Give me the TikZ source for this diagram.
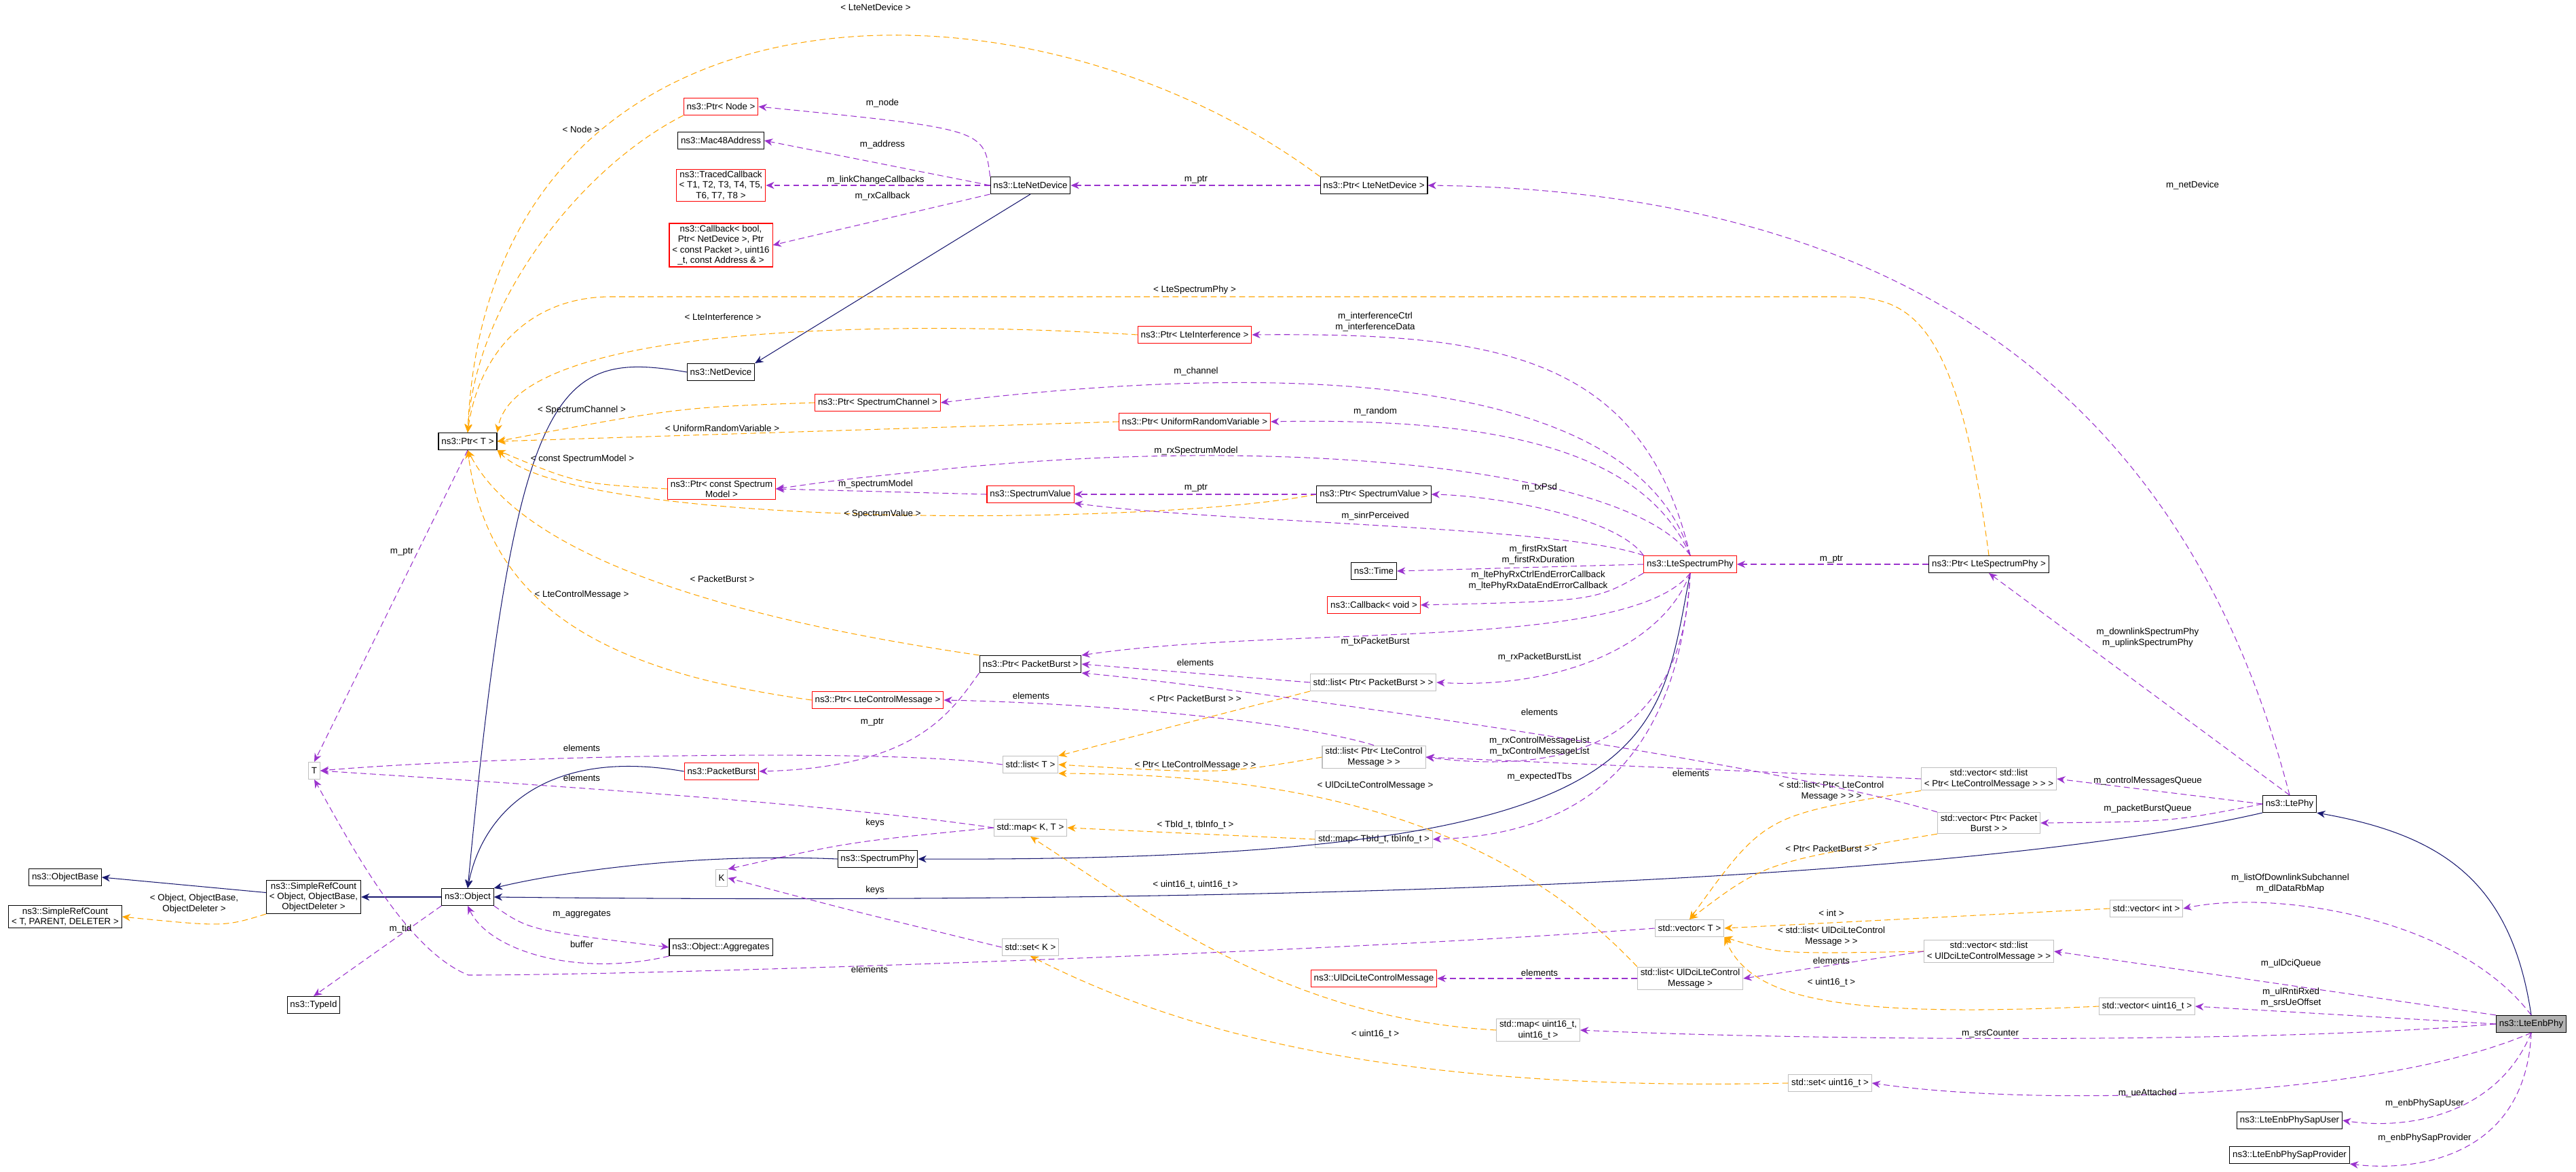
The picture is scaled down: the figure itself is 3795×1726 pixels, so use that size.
\documentclass[tikz,border=0pt]{standalone}
\usepackage{fontspec}
\setmainfont{Liberation Sans}
\usetikzlibrary{arrows.meta}
\definecolor{mpurple}{HTML}{9A32CD}
\definecolor{morange}{HTML}{FFA500}
\definecolor{mnavy}{HTML}{191970}
\definecolor{mgray}{HTML}{BFBFBF}
\tikzset{
  base/.style={draw, font=\fontsize{7.6}{8.6}\selectfont, align=center, inner xsep=2.5pt, inner ysep=1.8pt, minimum height=0.5cm, line width=0.6pt},
  box/.style={base, draw=black},
  redbox/.style={base, draw=red},
  graybox/.style={base, draw=mgray},
  mem/.style={draw=mpurple, dash pattern=on 5pt off 3pt, line width=0.6pt, -{Stealth[length=7pt,width=6pt]}},
  tmpl/.style={draw=morange, dash pattern=on 5pt off 3pt, line width=0.6pt, -{Stealth[length=7pt,width=6pt]}},
  inh/.style={draw=mnavy, line width=0.6pt, -{Stealth[length=7pt,width=6pt]}},
  lbl/.style={font=\fontsize{7.6}{8.6}\selectfont, align=center, inner sep=0pt},
}
\begin{document}
\begin{tikzpicture}[x=0.02cm, y=-0.02cm]
\useasboundingbox (0,0) rectangle (3795,1726);
% nodes
\node[redbox] (ptrnode) at (1062,157) {ns3::Ptr< Node >};
\node[box] (mac) at (1062,207) {ns3::Mac48Address};
\node[redbox] (traced) at (1062,273) {ns3::TracedCallback\\< T1, T2, T3, T4, T5,\\ T6, T7, T8 >};
\node[redbox] (cbbool) at (1062,361) {ns3::Callback< bool,\\ Ptr< NetDevice >, Ptr\\< const Packet >, uint16\\\_t, const Address \& >};
\node[box] (netdev) at (1062,548) {ns3::NetDevice};
\node[box] (ptrT) at (689,650) {ns3::Ptr< T >};
\node[redbox] (ptrchan) at (1293,593) {ns3::Ptr< SpectrumChannel >};
\node[redbox] (ptrmodel) at (1063,720) {ns3::Ptr< const Spectrum\\ Model >};
\node[box] (ltenetdev) at (1518,273) {ns3::LteNetDevice};
\node[box] (ptrltenet) at (2024,273) {ns3::Ptr< LteNetDevice >};
\node[redbox] (ptrinterf) at (1760,493) {ns3::Ptr< LteInterference >};
\node[redbox] (ptrurv) at (1760,621) {ns3::Ptr< UniformRandomVariable >};
\node[redbox] (specval) at (1518,728) {ns3::SpectrumValue};
\node[box] (ptrspecval) at (2024,728) {ns3::Ptr< SpectrumValue >};
\node[redbox] (lsp) at (2490,831) {ns3::LteSpectrumPhy};
\node[box] (time) at (2024,841) {ns3::Time};
\node[redbox] (cbvoid) at (2024,891) {ns3::Callback< void >};
\node[redbox] (ptrlcm) at (1293,1031) {ns3::Ptr< LteControlMessage >};
\node[graybox] (nT) at (463,1135) {T};
\node[redbox] (pb) at (1063,1136) {ns3::PacketBurst};
\node[graybox] (nK) at (1063,1293) {K};
\node[box] (specphy) at (1293,1265) {ns3::SpectrumPhy};
\node[box] (objbase) at (96,1292) {ns3::ObjectBase};
\node[box] (srcT) at (96,1350) {ns3::SimpleRefCount\\< T, PARENT, DELETER >};
\node[box] (srcObj) at (462,1321) {ns3::SimpleRefCount\\< Object, ObjectBase,\\ ObjectDeleter >};
\node[box] (object) at (689,1321) {ns3::Object};
\node[box] (aggr) at (1062,1395) {ns3::Object::Aggregates};
\node[box] (typeid) at (462,1480) {ns3::TypeId};
\node[box] (ptrpb) at (1518,978) {ns3::Ptr< PacketBurst >};
\node[graybox] (listpb) at (2023,1005) {std::list< Ptr< PacketBurst > >};
\node[graybox] (listT) at (1518,1126) {std::list< T >};
\node[graybox] (listlcm) at (2024,1115) {std::list< Ptr< LteControl\\Message > >};
\node[graybox] (mapKT) at (1518,1219) {std::map< K, T >};
\node[graybox] (maptb) at (2024,1236) {std::map< TbId\_t, tbInfo\_t >};
\node[graybox] (vecT) at (2489,1367) {std::vector< T >};
\node[graybox] (setK) at (1518,1395) {std::set< K >};
\node[redbox] (uldci) at (2024,1441) {ns3::UlDciLteControlMessage};
\node[graybox] (listuldci) at (2490,1441) {std::list< UlDciLteControl\\Message >};
\node[graybox] (mapu16) at (2266,1517) {std::map< uint16\_t,\\ uint16\_t >};
\node[box] (ptrlsp) at (2930,831) {ns3::Ptr< LteSpectrumPhy >};
\node[graybox] (veclistlcm) at (2930,1147) {std::vector< std::list\\< Ptr< LteControlMessage > > >};
\node[box] (ltephy) at (3373,1184) {ns3::LtePhy};
\node[graybox] (vecpb) at (2930,1212) {std::vector< Ptr< Packet\\Burst > >};
\node[graybox] (vecint) at (3162,1338) {std::vector< int >};
\node[graybox] (veculdci) at (2930,1401) {std::vector< std::list\\< UlDciLteControlMessage > >};
\node[graybox] (vecu16) at (3163,1482) {std::vector< uint16\_t >};
\node[box, fill=black!30] (enb) at (3729,1508) {ns3::LteEnbPhy};
\node[graybox] (setu16) at (2696,1595) {std::set< uint16\_t >};
\node[box] (sapuser) at (3373,1650) {ns3::LteEnbPhySapUser};
\node[box] (sapprov) at (3373,1701) {ns3::LteEnbPhySapProvider};

% inheritance
\draw[inh] (srcObj) -- (objbase.east);
\draw[inh] (object.west) -- (srcObj.east);
\draw[inh] (netdev.west) .. controls (820,515) and (760,560) .. (object.north);
\draw[inh] (ltenetdev.south) -- (netdev.north east);
\draw[inh] (pb.west) .. controls (800,1100) and (710,1200) .. (object.north);
\draw[inh] (specphy.west) .. controls (1000,1255) and (800,1290) .. (object.north east);
\draw[inh] (lsp.south) .. controls (2440,1100) and (2460,1270) .. (specphy.east);
\draw[inh] (ltephy.south west) .. controls (2800,1320) and (1500,1330) .. (object.east);
\draw[inh] (enb.north) .. controls (3700,1300) and (3600,1230) .. (ltephy.south east);

% templates
\draw[tmpl] (srcObj.south west) .. controls (330,1365) .. (srcT.east);
\node[lbl] at (286,1331) {< Object, ObjectBase,\\ ObjectDeleter >};
\draw[tmpl] (ptrltenet.north west) .. controls (1500,-70) and (720,-50) .. (ptrT.north);
\node[lbl] at (1290,11) {< LteNetDevice >};
\draw[tmpl] (ptrnode.south west) .. controls (850,250) and (700,450) .. (ptrT.north);
\node[lbl] at (856,191) {< Node >};
\draw[tmpl] (ptrlsp.north) .. controls (2880,440) and (2800,437) .. (2700,437) -- (900,437) .. controls (780,437) and (705,520) .. (ptrT.north);
\node[lbl] at (1760,427) {< LteSpectrumPhy >};
\draw[tmpl] (ptrinterf.west) .. controls (1300,470) and (760,480) .. (ptrT.north east);
\node[lbl] at (1065,467) {< LteInterference >};
\draw[tmpl] (ptrchan.west) .. controls (1000,600) .. (ptrT.east);
\node[lbl] at (857,604) {< SpectrumChannel >};
\draw[tmpl] (ptrurv.west) -- (ptrT.east);
\node[lbl] at (1064,631) {< UniformRandomVariable >};
\draw[tmpl] (ptrmodel.west) .. controls (850,712) .. (ptrT.south east);
\node[lbl] at (858,676) {< const SpectrumModel >};
\draw[tmpl] (ptrspecval.west) .. controls (1700,775) and (850,780) .. (ptrT.south east);
\node[lbl] at (1300,757) {< SpectrumValue >};
\draw[tmpl] (ptrpb.north west) .. controls (1000,900) and (760,800) .. (ptrT.south);
\node[lbl] at (1064,853) {< PacketBurst >};
\draw[tmpl] (ptrlcm.west) .. controls (900,990) and (720,900) .. (ptrT.south);
\node[lbl] at (857,876) {< LteControlMessage >};
\draw[tmpl] (listpb.south west) -- (listT.north east);
\node[lbl] at (1761,1029) {< Ptr< PacketBurst > >};
\draw[tmpl] (listlcm.west) .. controls (1800,1140) .. (listT.east);
\node[lbl] at (1761,1127) {< Ptr< LteControlMessage > >};
\draw[tmpl] (listuldci.north west) .. controls (2200,1200) and (1900,1140) .. (listT.south east);
\node[lbl] at (2026,1157) {< UlDciLteControlMessage >};
\draw[tmpl] (maptb.west) -- (mapKT.east);
\node[lbl] at (1761,1215) {< TbId\_t, tbInfo\_t >};
\draw[tmpl] (mapu16.west) .. controls (1900,1500) and (1700,1350) .. (mapKT.south);
\node[lbl] at (1761,1303) {< uint16\_t, uint16\_t >};
\draw[tmpl] (setu16.west) .. controls (2000,1610) and (1700,1500) .. (setK.south);
\node[lbl] at (2026,1523) {< uint16\_t >};
\draw[tmpl] (veclistlcm.south west) .. controls (2600,1200) .. (vecT.north);
\node[lbl] at (2698,1165) {< std::list< Ptr< LteControl\\Message > > >};
\draw[tmpl] (vecpb.south west) .. controls (2600,1270) .. (vecT.north);
\node[lbl] at (2698,1250) {< Ptr< PacketBurst > >};
\draw[tmpl] (vecint.west) -- (vecT.east);
\node[lbl] at (2698,1345) {< int >};
\draw[tmpl] (veculdci.west) .. controls (2620,1405) .. (vecT.south east);
\node[lbl] at (2698,1379) {< std::list< UlDciLteControl\\Message > >};
\draw[tmpl] (vecu16.west) .. controls (2700,1500) and (2580,1470) .. (vecT.south east);
\node[lbl] at (2698,1447) {< uint16\_t >};

% members
\draw[mem] (ltenetdev.north west) .. controls (1450,190) .. (ptrnode.east);
\node[lbl] at (1300,152) {m\_node};
\draw[mem] (ltenetdev.west) -- (mac.east);
\node[lbl] at (1300,213) {m\_address};
\draw[mem] (ltenetdev.west) -- (traced.east);
\node[lbl] at (1290,265) {m\_linkChangeCallbacks};
\draw[mem] (ltenetdev.south west) -- (cbbool.east);
\node[lbl] at (1300,289) {m\_rxCallback};
\draw[mem] (ptrltenet.west) -- (ltenetdev.east);
\node[lbl] at (1762,265) {m\_ptr};
\draw[mem] (ltephy.north) .. controls (3200,500) and (2700,280) .. (ptrltenet.east);
\node[lbl] at (3230,273) {m\_netDevice};
\draw[mem] (lsp.north) .. controls (2420,520) and (2200,490) .. (ptrinterf.east);
\node[lbl] at (2026,474) {m\_interferenceCtrl\\m\_interferenceData};
\draw[mem] (lsp.north) .. controls (2420,580) and (2000,520) .. (ptrchan.east);
\node[lbl] at (1762,547) {m\_channel};
\draw[mem] (lsp.north) .. controls (2420,660) and (2200,615) .. (ptrurv.east);
\node[lbl] at (2026,606) {m\_random};
\draw[mem] (lsp.north) .. controls (2400,690) and (1900,640) .. (1400,690) .. controls (1250,705) .. (ptrmodel.east);
\node[lbl] at (1762,664) {m\_rxSpectrumModel};
\draw[mem] (specval.west) -- (ptrmodel.east);
\node[lbl] at (1290,713) {m\_spectrumModel};
\draw[mem] (ptrspecval.west) -- (specval.east);
\node[lbl] at (1762,719) {m\_ptr};
\draw[mem] (lsp.north west) .. controls (2380,760) and (2200,730) .. (ptrspecval.east);
\node[lbl] at (2268,718) {m\_txPsd};
\draw[mem] (lsp.north west) .. controls (2300,775) and (1800,770) .. (specval.south east);
\node[lbl] at (2026,760) {m\_sinrPerceived};
\draw[mem] (lsp.west) -- (time.east);
\node[lbl] at (2266,817) {m\_firstRxStart\\m\_firstRxDuration};
\draw[mem] (lsp.south west) .. controls (2350,885) .. (cbvoid.east);
\node[lbl] at (2266,855) {m\_ltePhyRxCtrlEndErrorCallback\\m\_ltePhyRxDataEndErrorCallback};
\draw[mem] (lsp.south) .. controls (2400,960) and (1900,920) .. (ptrpb.north east);
\node[lbl] at (2026,945) {m\_txPacketBurst};
\draw[mem] (lsp.south) .. controls (2450,950) and (2300,1015) .. (listpb.east);
\node[lbl] at (2268,968) {m\_rxPacketBurstList};
\draw[mem] (lsp.south) .. controls (2480,1100) and (2300,1140) .. (listlcm.east);
\node[lbl] at (2268,1099) {m\_rxControlMessageList\\m\_txControlMessageList};
\draw[mem] (lsp.south) .. controls (2470,1150) and (2300,1230) .. (maptb.east);
\node[lbl] at (2268,1144) {m\_expectedTbs};
\draw[mem] (ptrlsp.west) -- (lsp.east);
\node[lbl] at (2698,824) {m\_ptr};
\draw[mem] (ltephy.north) -- (ptrlsp.south);
\node[lbl] at (3164,939) {m\_downlinkSpectrumPhy\\m\_uplinkSpectrumPhy};
\draw[mem] (listpb.west) -- (ptrpb.east);
\node[lbl] at (1761,976) {elements};
\draw[mem] (listlcm.north) .. controls (1900,1060) and (1600,1035) .. (ptrlcm.east);
\node[lbl] at (1519,1025) {elements};
\draw[mem] (veclistlcm.west) -- (listlcm.east);
\node[lbl] at (2491,1139) {elements};
\draw[mem] (vecpb.north west) .. controls (2600,1120) and (1800,1010) .. (ptrpb.south east);
\node[lbl] at (2268,1049) {elements};
\draw[mem] (ptrpb.south west) .. controls (1400,1050) and (1350,1130) .. (pb.east);
\node[lbl] at (1285,1064) {m\_ptr};
\draw[mem] (ptrT.south) -- (nT.north);
\node[lbl] at (592,813) {m\_ptr};
\draw[mem] (listT.west) .. controls (1300,1100) and (700,1115) .. (nT.east);
\node[lbl] at (857,1102) {elements};
\draw[mem] (mapKT.west) .. controls (1200,1180) and (700,1150) .. (nT.east);
\node[lbl] at (857,1146) {elements};
\draw[mem] (mapKT.west) .. controls (1250,1240) .. (nK.north east);
\node[lbl] at (1289,1212) {keys};
\draw[mem] (setK.west) .. controls (1250,1340) .. (nK.east);
\node[lbl] at (1289,1311) {keys};
\draw[mem] (vecT.west) .. controls (2000,1400) and (1000,1436) .. (690,1436) .. controls (600,1400) and (520,1250) .. (nT.south);
\node[lbl] at (1281,1428) {elements};
\draw[mem] (object.south east) .. controls (780,1370) .. (aggr.west);
\node[lbl] at (857,1347) {m\_aggregates};
\draw[mem] (aggr.south west) .. controls (850,1440) and (720,1400) .. (object.south);
\node[lbl] at (857,1391) {buffer};
\draw[mem] (object.south west) -- (typeid.north);
\node[lbl] at (590,1368) {m\_tid};
\draw[mem] (listuldci.west) -- (uldci.east);
\node[lbl] at (2268,1433) {elements};
\draw[mem] (veculdci.west) -- (listuldci.east);
\node[lbl] at (2698,1415) {elements};
\draw[mem] (ltephy.west) -- (veclistlcm.east);
\node[lbl] at (3164,1150) {m\_controlMessagesQueue};
\draw[mem] (ltephy.west) .. controls (3200,1210) .. (vecpb.east);
\node[lbl] at (3164,1191) {m\_packetBurstQueue};
\draw[mem] (enb.north) .. controls (3620,1350) and (3350,1310) .. (vecint.east);
\node[lbl] at (3374,1301) {m\_listOfDownlinkSubchannel\\m\_dlDataRbMap};
\draw[mem] (enb.north west) -- (veculdci.east);
\node[lbl] at (3375,1419) {m\_ulDciQueue};
\draw[mem] (enb.west) -- (vecu16.east);
\node[lbl] at (3375,1469) {m\_ulRntiRxed\\m\_srsUeOffset};
\draw[mem] (enb.west) .. controls (3300,1540) and (2600,1530) .. (mapu16.east);
\node[lbl] at (2932,1522) {m\_srsCounter};
\draw[mem] (enb.south) .. controls (3500,1620) and (3000,1630) .. (setu16.east);
\node[lbl] at (3164,1610) {m\_ueAttached};
\draw[mem] (enb.south) .. controls (3680,1640) and (3550,1665) .. (sapuser.east);
\node[lbl] at (3572,1625) {m\_enbPhySapUser};
\draw[mem] (enb.south) .. controls (3720,1710) and (3550,1725) .. (sapprov.south east);
\node[lbl] at (3572,1676) {m\_enbPhySapProvider};
\end{tikzpicture}
\end{document}
